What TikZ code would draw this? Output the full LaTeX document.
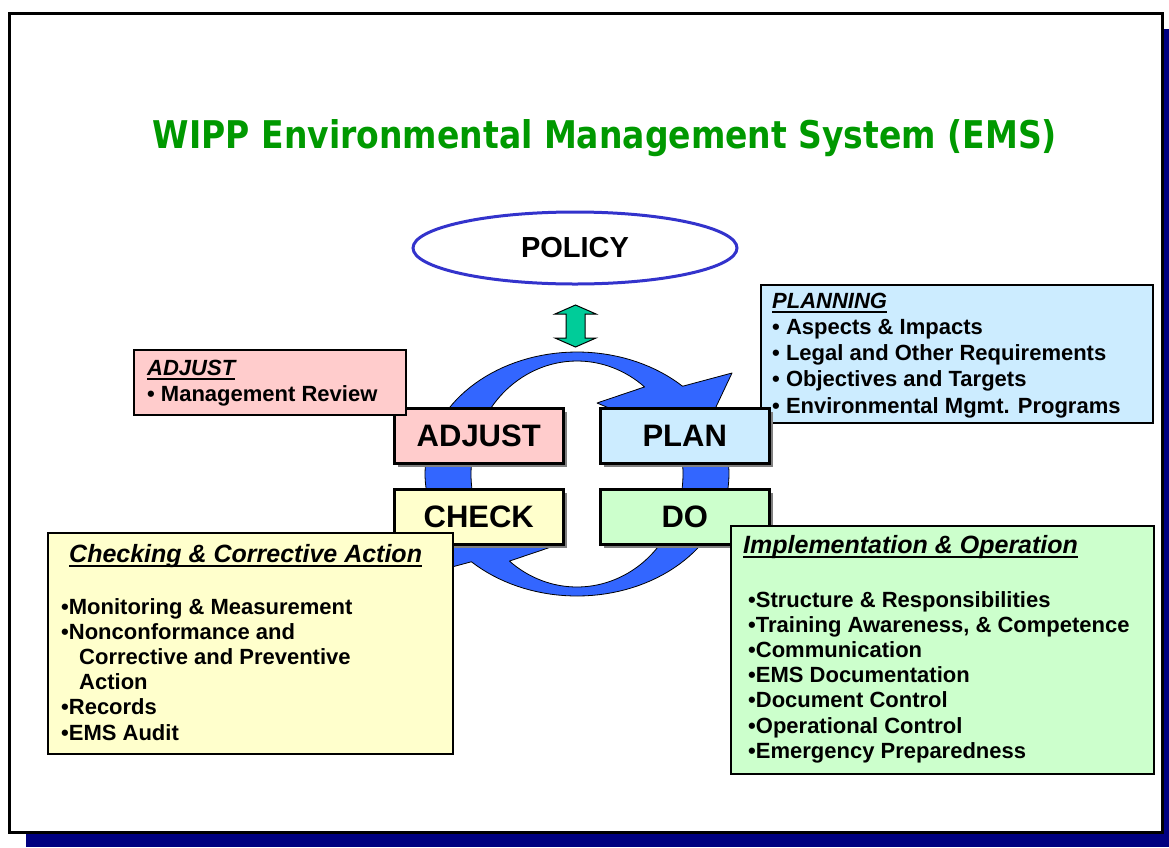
\documentclass[tikz,border=0pt]{standalone}
\usepackage{fontspec}
\setmainfont{Liberation Sans}
\newfontfamily\titlefont{DejaVu Sans}
\usetikzlibrary{shadows,shapes.geometric}
\definecolor{navyc}{HTML}{000080}
\definecolor{titlegreen}{HTML}{009900}
\definecolor{policyblue}{HTML}{3333CC}
\definecolor{ringblue}{HTML}{3366FF}
\definecolor{arrowgreen}{HTML}{00CC99}
\definecolor{pinkc}{HTML}{FFCCCC}
\definecolor{bluec}{HTML}{CCECFF}
\definecolor{yellowc}{HTML}{FFFFCC}
\definecolor{greenc}{HTML}{CCFFCC}
\definecolor{shadowgray}{HTML}{808080}
\newsavebox{\hdbox}
\newcommand{\hdl}[1]{\sbox{\hdbox}{\itshape #1}\rlap{\vrule height -3pt depth 4.8pt width \wd\hdbox}\usebox{\hdbox}}
\begin{document}
\begin{tikzpicture}[x=1pt,y=-1pt,
  ringarrow/.style={fill=ringblue, draw=black, line width=0.8pt, line join=round},
  notebox/.style={draw=black, line width=2pt, anchor=north west, inner sep=0pt},
  bigbox/.style={draw=black, line width=2.5pt, anchor=north west, inner sep=0pt,
     minimum width=169pt, minimum height=55pt,
     font=\fontsize{31}{36}\selectfont\bfseries,
     general shadow={fill=shadowgray, shadow xshift=4pt, shadow yshift=-4pt}},
  txt/.style={anchor=base west, inner sep=0pt, font=\fontsize{22}{25.2}\selectfont\bfseries},
  hdtxt/.style={anchor=base west, inner sep=0pt, font=\fontsize{25}{30}\selectfont\bfseries}
]
\useasboundingbox (0,0) rectangle (1169,847);
% page frame
\fill[navyc] (26,29) rectangle (1169,847);
\draw[line width=3pt, fill=white] (9,13) rectangle (1162,832);

% title
\node[anchor=base, inner sep=0pt, text=titlegreen] (title) at (605,148)
  {\resizebox{904pt}{29pt}{\titlefont\bfseries WIPP Environmental Management System (EMS)}};

% policy
\node[ellipse, draw=policyblue, line width=3pt, minimum width=324pt, minimum height=72pt,
  inner sep=0pt, font=\fontsize{29}{34}\selectfont\bfseries] (policy) at (575,248) {POLICY};

% double arrow
\draw[fill=arrowgreen, line width=1pt, line join=miter]
  (575.5,305) -- (596,314) -- (585,314) -- (585,338) -- (596,338) -- (575.5,347)
  -- (555,338) -- (566,338) -- (566,314) -- (555,314) -- cycle;

% cycle arrows
\path[ringarrow] plot[domain=160:314, samples=60] ({577+152*cos(\x)},{474+122*sin(\x)})
  -- (732,373) -- (698,445) -- (597,403)
  -- plot[domain=309.6:160, samples=60] ({577+106*cos(\x)},{474+113*sin(\x)}) -- cycle;
\path[ringarrow, rotate around={180:(577,474)}] plot[domain=160:314, samples=60] ({577+152*cos(\x)},{474+122*sin(\x)})
  -- (732,373) -- (698,445) -- (597,403)
  -- plot[domain=309.6:160, samples=60] ({577+106*cos(\x)},{474+113*sin(\x)}) -- cycle;

% planning note
\node[notebox, fill=bluec, minimum width=392pt, minimum height=138pt] (plannote) at (760,284) {};
\node[txt, font=\fontsize{22}{26.25}\selectfont\bfseries] (plantxt) at (772,308)
  {\begin{tabular}[t]{@{}l@{}}\hdl{PLANNING}\\• Aspects \& Impacts\\• Legal and Other Requirements\\• Objectives and Targets\\• Environmental Mgmt. Programs\end{tabular}};

% big boxes
\node[bigbox, fill=pinkc] (adjust) at (393,407) {ADJUST};
\node[bigbox, fill=bluec] (plan) at (599,407) {PLAN};
\node[bigbox, fill=yellowc] (check) at (393,488) {CHECK};
\node[bigbox, fill=greenc] (do) at (599,488) {DO};

% adjust note
\node[notebox, fill=pinkc, minimum width=272pt, minimum height=65pt] (adjnote) at (133,349) {};
\node[txt, font=\fontsize{22}{26.5}\selectfont\bfseries] (adjtxt) at (147,375)
  {\begin{tabular}[t]{@{}l@{}}\hdl{ADJUST}\\• Management Review\end{tabular}};

% checking note
\node[notebox, fill=yellowc, minimum width=405pt, minimum height=221pt] (chknote) at (47,532) {};
\node[hdtxt] (chkhd) at (69,562) {\hdl{Checking \& Corrective Action}};
\node[txt] (chktxt) at (61,614)
  {\begin{tabular}[t]{@{}l@{}}•Monitoring \& Measurement\\•Nonconformance and\\\hspace*{18pt}Corrective and Preventive\\\hspace*{18pt}Action\\•Records\\•EMS Audit\end{tabular}};

% implementation note
\node[notebox, fill=greenc, minimum width=423pt, minimum height=248pt] (impnote) at (730,525) {};
\node[hdtxt] (imphd) at (743,553) {\hdl{Implementation \& Operation}};
\node[txt] (imptxt) at (748,607)
  {\begin{tabular}[t]{@{}l@{}}•Structure \& Responsibilities\\•Training Awareness, \& Competence\\•Communication\\•EMS Documentation\\•Document Control\\•Operational Control\\•Emergency Preparedness\end{tabular}};
\end{tikzpicture}
\end{document}
